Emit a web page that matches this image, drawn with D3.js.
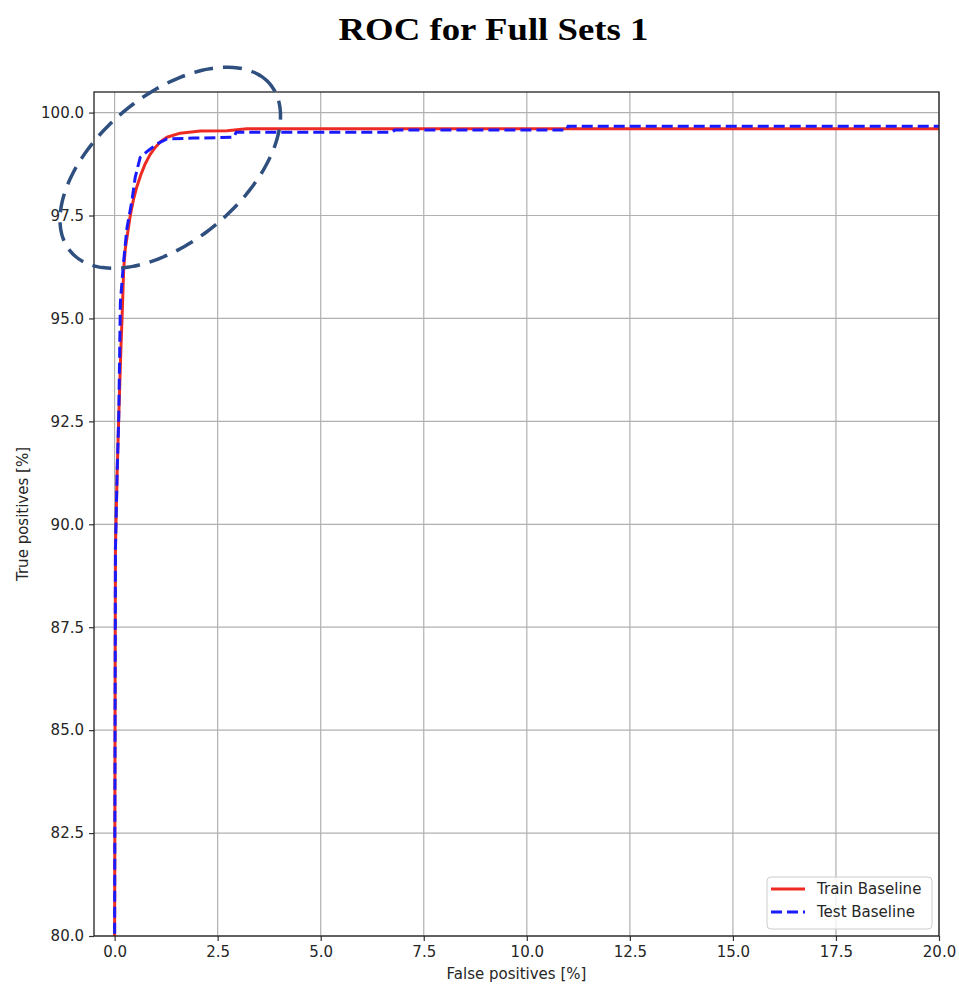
<!DOCTYPE html>
<html>
<head>
<meta charset="utf-8">
<script src="https://cdn.jsdelivr.net/npm/d3@7"></script>
<style>
  body { margin: 0; background: #fff; }
  svg { display: block; }
  text { font-family: 'DejaVu Sans', sans-serif; fill: #262626; }
</style>
</head>
<body>
<div class="graphHold"></div>
<script>
/*************/
/*** DATA ****/
/*************/
let trainFpr = [0, 0, 0.02, 0.06, 0.10, 0.15, 0.18, 0.22, 0.26, 0.32, 0.38, 0.46, 0.54, 0.64, 0.74, 0.86, 0.99, 1.12, 1.27, 1.59, 2.08, 2.73, 3.21, 20];
let trainTpr = [0, 80, 89.4, 91.2, 92.6, 94.2, 95.0, 96.2, 96.7, 97.1, 97.5, 97.9, 98.2, 98.5, 98.75, 98.98, 99.16, 99.3, 99.4, 99.5, 99.55, 99.56, 99.61, 99.61];

let testFpr = [0, 0, 0.02, 0.06, 0.10, 0.14, 0.22, 0.30, 0.42, 0.50, 0.62, 0.82, 1.03, 1.27, 1.92, 2.89, 2.95, 6.73, 6.80, 10.97, 11.0, 20];
let testTpr = [0, 80, 89.4, 91.2, 92.6, 95.4, 96.4, 97.2, 97.86, 98.43, 98.91, 99.08, 99.24, 99.36, 99.38, 99.40, 99.52, 99.52, 99.58, 99.58, 99.67, 99.67];

let xTicks = [0, 2.5, 5, 7.5, 10, 12.5, 15, 17.5, 20];
let yTicks = [80, 82.5, 85, 87.5, 90, 92.5, 95, 97.5, 100];

let seriesNames = ['Train Baseline', 'Test Baseline'];

/* ellipse annotation : centre, demi-axes (unités données), angle */
let ellipseCenter = [1.35, 98.66];
let ellipseRadii = [3.16, 1.77];
let ellipseAngle = 40;

/*************/
/*** GRAPH ***/
/*************/
let width = 959,
    height = 989,
    pLeft = 94, pRight = 939, pTop = 92, pBottom = 936;

let svg = d3.select('.graphHold').
append('svg').
attr('width', width).
attr('height', height);

let xScale = d3.scaleLinear().domain([-0.5, 20]).range([pLeft, pRight]);
let yScale = d3.scaleLinear().domain([80, 100.5]).range([pBottom, pTop]);

/* grille */
svg.append('g').selectAll('line').
data(xTicks).
enter().append('line').
attr('x1', d => xScale(d)).attr('x2', d => xScale(d)).
attr('y1', pTop).attr('y2', pBottom).
style('stroke', '#b0b0b0').style('stroke-width', 1.2);

svg.append('g').selectAll('line').
data(yTicks).
enter().append('line').
attr('y1', d => yScale(d)).attr('y2', d => yScale(d)).
attr('x1', pLeft).attr('x2', pRight).
style('stroke', '#b0b0b0').style('stroke-width', 1.2);

/* axes */
let xAxis = d3.axisBottom(xScale).
tickValues(xTicks).
tickFormat(d3.format('.1f')).
tickSize(5).tickSizeOuter(0).tickPadding(5);

let yAxis = d3.axisLeft(yScale).
tickValues(yTicks).
tickFormat(d3.format('.1f')).
tickSize(5).tickSizeOuter(0).tickPadding(5);

let xAxisGroup = svg.append('g').
attr('transform', 'translate(0,' + pBottom + ')').
call(xAxis);

let yAxisGroup = svg.append('g').
attr('transform', 'translate(' + pLeft + ',0)').
call(yAxis);

[xAxisGroup, yAxisGroup].forEach(g => {
  g.select('.domain').remove();
  g.selectAll('.tick line').style('stroke', '#333').style('stroke-width', 1.2);
  g.selectAll('.tick text').
  style('font-size', '15px').
  style('font-family', "'DejaVu Sans', sans-serif").
  style('fill', '#262626');
});

/* courbes */
svg.append('clipPath').attr('id', 'clip').
append('rect').
attr('x', pLeft).attr('y', pTop).
attr('width', pRight - pLeft).attr('height', pBottom - pTop);

let line = d3.line().
x(d => xScale(d[0])).
y(d => yScale(d[1]));

let trainPts = trainFpr.map((v, i) => [v, trainTpr[i]]);
let testPts = testFpr.map((v, i) => [v, testTpr[i]]);

let curves = svg.append('g').attr('clip-path', 'url(#clip)');

curves.append('path').
datum(trainPts).
attr('d', line).
style('fill', 'none').
style('stroke', '#ee2b22').
style('stroke-width', 3).
style('stroke-linejoin', 'round');

curves.append('path').
datum(testPts).
attr('d', line).
style('fill', 'none').
style('stroke', '#1a1aff').
style('stroke-width', 3).
style('stroke-dasharray', '11,5');

/* cadre */
svg.append('rect').
attr('x', pLeft).attr('y', pTop).
attr('width', pRight - pLeft).attr('height', pBottom - pTop).
style('fill', 'none').
style('stroke', '#222').
style('stroke-width', 1.3);

/* ellipse annotation */
let rad = ellipseAngle * Math.PI / 180;
let ellipsePts = d3.range(0, 360, 3).map(t => {
  let a = t * Math.PI / 180;
  let ex = ellipseRadii[0] * Math.cos(a),
      ey = ellipseRadii[1] * Math.sin(a);
  return [ellipseCenter[0] + ex * Math.cos(rad) - ey * Math.sin(rad),
          ellipseCenter[1] + ex * Math.sin(rad) + ey * Math.cos(rad)];
});

let ellipseLine = d3.line().
x(d => xScale(d[0])).
y(d => yScale(d[1])).
curve(d3.curveCardinalClosed);

svg.append('path').
datum(ellipsePts).
attr('d', ellipseLine).
style('fill', 'none').
style('stroke', '#2f4f7f').
style('stroke-width', 3.5).
style('stroke-dasharray', '19,10');

/* légende */
let legend = svg.append('g');
legend.append('rect').
attr('x', 767).attr('y', 877).
attr('width', 165).attr('height', 52).
attr('rx', 4).
style('fill', 'rgba(255,255,255,0.8)').
style('stroke', '#cccccc').
style('stroke-width', 1);

let legendColors = ['#ee2b22', '#1a1aff'];
let legendDash = ['none', '11,5'];
seriesNames.forEach((name, i) => {
  let yy = 889 + i * 23;
  legend.append('line').
  attr('x1', 771).attr('x2', 805).
  attr('y1', yy).attr('y2', yy).
  style('stroke', legendColors[i]).
  style('stroke-width', 3).
  style('stroke-dasharray', legendDash[i]);
  legend.append('text').
  attr('x', 817).attr('y', yy + 5).
  style('font-size', '15px').
  text(name);
});

/* titres */
svg.append('text').
attr('x', 493.5).attr('y', 40).
attr('text-anchor', 'middle').
attr('textLength', 310).
attr('lengthAdjust', 'spacingAndGlyphs').
style('font-family', "'Liberation Serif', serif").
style('font-weight', 'bold').
style('font-size', '32px').
style('fill', '#000').
text('ROC for Full Sets 1');

svg.append('text').
attr('x', (pLeft + pRight) / 2).attr('y', 979).
attr('text-anchor', 'middle').
style('font-size', '15px').
text('False positives [%]');

svg.append('text').
attr('transform', 'translate(28,' + (pTop + pBottom) / 2 + ') rotate(-90)').
attr('text-anchor', 'middle').
style('font-size', '15px').
text('True positives [%]');
</script>
</body>
</html>
